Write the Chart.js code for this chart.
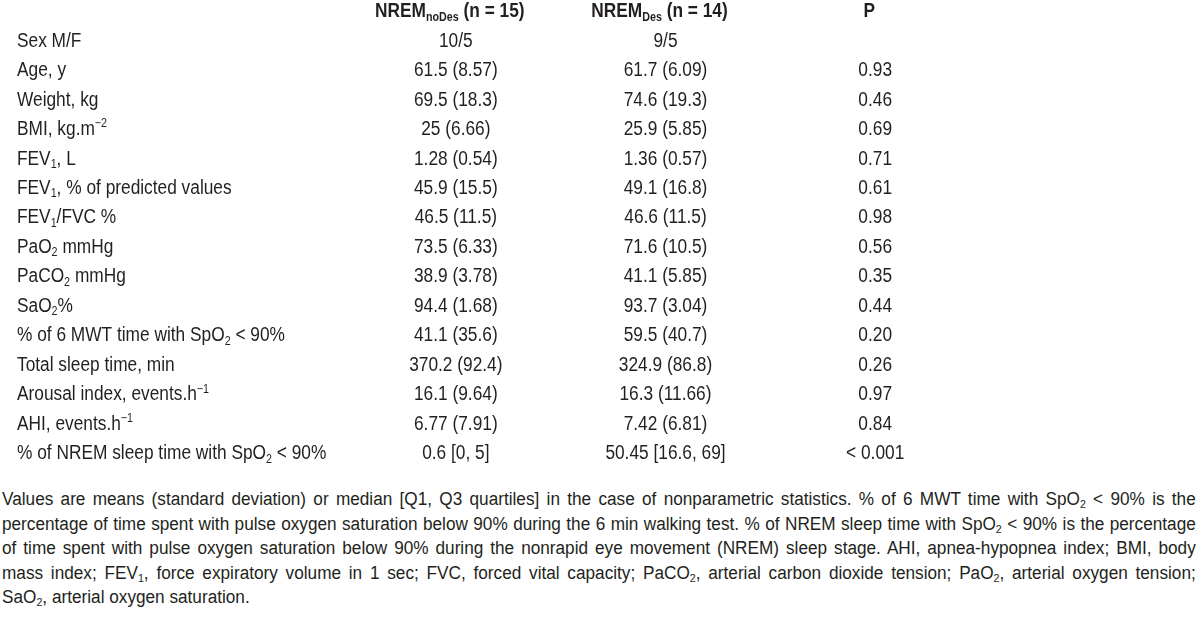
<!DOCTYPE html>
<html>
<head>
<meta charset="utf-8">
<script src="https://cdn.jsdelivr.net/npm/chart.js@4"></script>
<style>
  html, body { margin: 0; padding: 0; background: #fff; }
  body { width: 1200px; height: 618px; position: relative; overflow: hidden; }
  #table { position: absolute; left: 0; top: 0; }
  .note {
    position: absolute; left: 2px; top: 487px;
    font-family: 'Liberation Sans', Arial, sans-serif;
    font-size: 18px; line-height: 24.6px; color: #231f20;
  }
  /* narrow face imitation: lay out wide, then squeeze horizontally */
  .note div {
    width: 1250px; transform: scaleX(0.955); transform-origin: 0 0;
    text-align: justify; text-align-last: justify; white-space: nowrap;
  }
  .note div.last { text-align-last: left; }
  .note sub { font-size: 62%; vertical-align: -0.25em; line-height: 0; }
</style>
</head>
<body>
<canvas id="table" width="1200" height="480"></canvas>
<div class="note">
  <div>Values are means (standard deviation) or median [Q1, Q3 quartiles] in the case of nonparametric statistics. % of 6 MWT time with SpO<sub>2</sub> &lt; 90% is the</div>
  <div>percentage of time spent with pulse oxygen saturation below 90% during the 6 min walking test. % of NREM sleep time with SpO<sub>2</sub> &lt; 90% is the percentage</div>
  <div>of time spent with pulse oxygen saturation below 90% during the nonrapid eye movement (NREM) sleep stage. AHI, apnea-hypopnea index; BMI, body</div>
  <div>mass index; FEV<sub>1</sub>, force expiratory volume in 1 sec; FVC, forced vital capacity; PaCO<sub>2</sub>, arterial carbon dioxide tension; PaO<sub>2</sub>, arterial oxygen tension;</div>
  <div class="last">SaO<sub>2</sub>, arterial oxygen saturation.</div>
</div>
<script>
// _{..} = subscript, ^{..} = superscript
const columns = ['noDes', 'Des', 'P'];
const headers = ['NREM_{noDes} (n = 15)', 'NREM_{Des} (n = 14)', 'P'];

const rowLabels = [
  'Sex M/F',
  'Age, y',
  'Weight, kg',
  'BMI, kg.m^{\u22122}',
  'FEV_{1}, L',
  'FEV_{1}, % of predicted values',
  'FEV_{1}/FVC %',
  'PaO_{2} mmHg',
  'PaCO_{2} mmHg',
  'SaO_{2}%',
  '% of 6 MWT time with SpO_{2} < 90%',
  'Total sleep time, min',
  'Arousal index, events.h^{\u22121}',
  'AHI, events.h^{\u22121}',
  '% of NREM sleep time with SpO_{2} < 90%'
];

const noDesValues = [
  '10/5', '61.5 (8.57)', '69.5 (18.3)', '25 (6.66)', '1.28 (0.54)',
  '45.9 (15.5)', '46.5 (11.5)', '73.5 (6.33)', '38.9 (3.78)', '94.4 (1.68)',
  '41.1 (35.6)', '370.2 (92.4)', '16.1 (9.64)', '6.77 (7.91)', '0.6 [0, 5]'
];

const desValues = [
  '9/5', '61.7 (6.09)', '74.6 (19.3)', '25.9 (5.85)', '1.36 (0.57)',
  '49.1 (16.8)', '46.6 (11.5)', '71.6 (10.5)', '41.1 (5.85)', '93.7 (3.04)',
  '59.5 (40.7)', '324.9 (86.8)', '16.3 (11.66)', '7.42 (6.81)', '50.45 [16.6, 69]'
];

const pValues = [
  '', '0.93', '0.46', '0.69', '0.71',
  '0.61', '0.98', '0.56', '0.35', '0.44',
  '0.20', '0.26', '0.97', '0.84', '< 0.001'
];

const FONT = "'Liberation Sans', Arial, sans-serif";
const SQUEEZE = 0.865;
const TEXT_COLOR = '#231f20';
const SIZE = 20;

function parseRich(str) {
  const parts = [];
  const re = /([_^])\{([^}]*)\}/g;
  let last = 0, m;
  while ((m = re.exec(str)) !== null) {
    if (m.index > last) parts.push({ t: str.slice(last, m.index), mode: 'n' });
    parts.push({ t: m[2], mode: m[1] === '_' ? 'sub' : 'sup' });
    last = re.lastIndex;
  }
  if (last < str.length) parts.push({ t: str.slice(last), mode: 'n' });
  return parts;
}

function drawRich(ctx, str, x, y, opts) {
  const size = opts.size, weight = opts.weight || 'normal';
  const parts = parseRich(str);
  const fontFor = p => `${weight} ${p.mode === 'n' ? size : size * 0.62}px ${FONT}`;
  let total = 0;
  parts.forEach(p => { ctx.font = fontFor(p); p.w = ctx.measureText(p.t).width; total += p.w; });
  const left = opts.align === 'center' ? x - total * SQUEEZE / 2 : x;
  const base = y + size * 0.36;
  ctx.save();
  ctx.translate(left, base);
  ctx.scale(SQUEEZE, 1);
  ctx.textBaseline = 'alphabetic';
  ctx.textAlign = 'left';
  ctx.fillStyle = TEXT_COLOR;
  let cx = 0;
  parts.forEach(p => {
    ctx.font = fontFor(p);
    let by = 0;
    if (p.mode === 'sub') by = size * 0.17;
    if (p.mode === 'sup') by = -size * 0.38;
    ctx.fillText(p.t, cx, by);
    cx += p.w;
  });
  ctx.restore();
}

const tableText = {
  id: 'tableText',
  afterDatasetsDraw(chart) {
    const ctx = chart.ctx;
    const xs = chart.scales.x, ys = chart.scales.y;
    // column headers
    const hy = ys.getPixelForValue(0);
    headers.forEach((h, i) => {
      drawRich(ctx, h, xs.getPixelForValue(i) - 6, hy, { size: SIZE, weight: 'bold', align: 'center' });
    });
    // row labels
    rowLabels.forEach((lbl, i) => {
      drawRich(ctx, lbl, 17, ys.getPixelForValue(i + 1), { size: SIZE, align: 'left' });
    });
    // cells, placed at each point element
    chart.data.datasets.forEach((ds, di) => {
      const meta = chart.getDatasetMeta(di);
      meta.data.forEach((el, i) => {
        const txt = ds.cellText[i];
        if (txt) drawRich(ctx, txt, el.x, el.y, { size: SIZE, align: 'center' });
      });
    });
  }
};

function cellDataset(colKey, values) {
  return {
    label: colKey,
    data: rowLabels.map(r => ({ x: colKey, y: r })),
    cellText: values,
    showLine: false,
    pointRadius: 0,
    pointHoverRadius: 0,
    clip: false
  };
}

new Chart(document.getElementById('table'), {
  type: 'line',
  data: {
    datasets: [
      cellDataset('noDes', noDesValues),
      cellDataset('Des', desValues),
      cellDataset('P', pValues)
    ]
  },
  options: {
    responsive: false,
    animation: false,
    events: [],
    layout: { padding: { left: 351, right: 220, top: 10, bottom: 28 } },
    plugins: { legend: { display: false }, tooltip: { enabled: false } },
    scales: {
      x: { type: 'category', labels: columns, offset: true, display: false },
      y: { type: 'category', labels: ['header'].concat(rowLabels), offset: false, display: false }
    }
  },
  plugins: [tableText]
});
</script>
</body>
</html>
